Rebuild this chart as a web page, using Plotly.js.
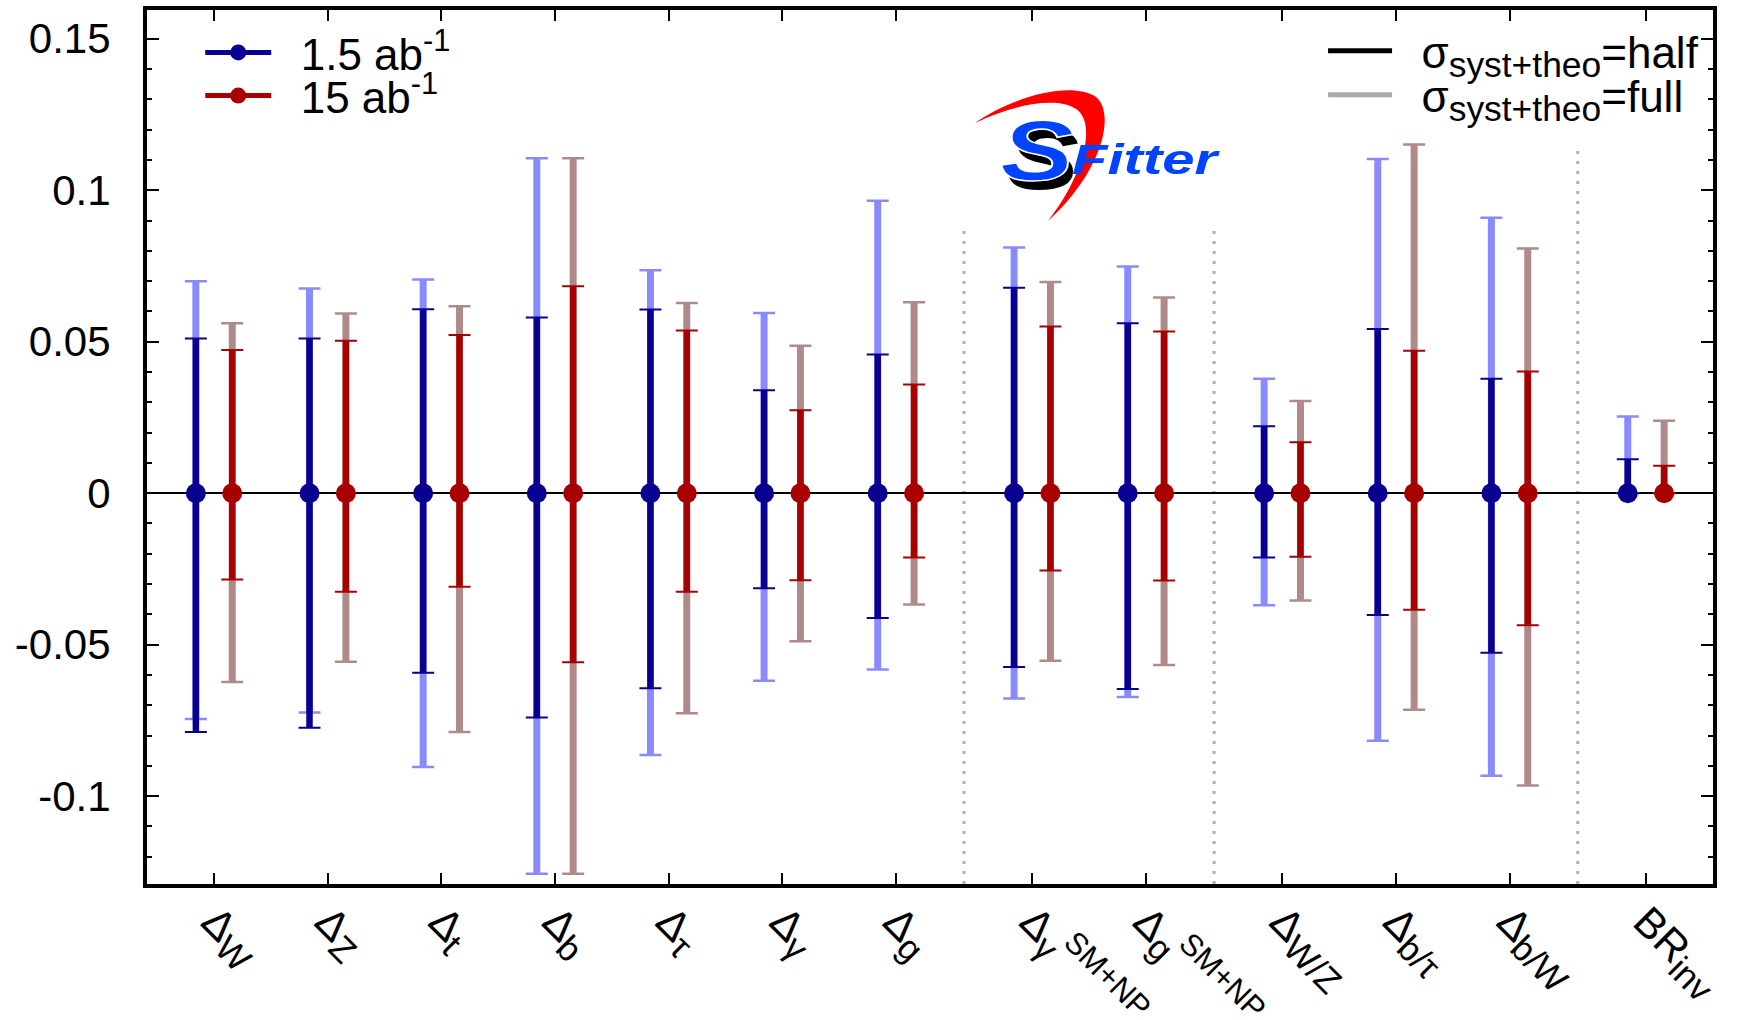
<!DOCTYPE html>
<html><head><meta charset="utf-8">
<script src="https://cdn.plot.ly/plotly-3.0.1.min.js"></script>
<style>html,body{margin:0;padding:0;background:#fff}#chart{width:1745px;height:1020px}</style>
</head><body><div id="chart"></div>
<script>
// ---- data ----
const sub = t => '<sub><span style="font-size:120%">' + t + '</span></sub>';
const sup = t => '<sup><span style="font-size:105%">' + t + '</span></sup>';
const categories = ['Δ' + sub('W'), 'Δ' + sub('Z'), 'Δ' + sub('t'), 'Δ' + sub('b'), 'Δ' + sub('τ'),
  'Δ' + sub('γ'), 'Δ' + sub('g'), 'Δ' + sub('γ') + sup('SM+NP'), 'Δ' + sub('g') + sup('SM+NP'),
  'Δ' + sub('W/Z'), 'Δ' + sub('b/τ'), 'Δ' + sub('b/W'), 'BR' + sub('inv')];
const groups = [0, 0, 0, 0, 0, 0, 0, 1, 1, 2, 2, 2, 3];
const central = [0, 0, 0, 0, 0, 0, 0, 0, 0, 0, 0, 0, 0];

// 1.5 ab^-1
const low_halfUp   = [0.0511, 0.0511, 0.0607, 0.0580, 0.0606, 0.0340, 0.0458, 0.0678, 0.0561, 0.0221, 0.0542, 0.0378, 0.0112];
const low_halfDown = [0.0788, 0.0774, 0.0593, 0.0740, 0.0644, 0.0314, 0.0412, 0.0574, 0.0646, 0.0212, 0.0402, 0.0527, 0];
const low_fullUp   = [0.0700, 0.0676, 0.0705, 0.1106, 0.0736, 0.0595, 0.0965, 0.0811, 0.0748, 0.0378, 0.1103, 0.0909, 0.0253];
const low_fullDown = [0.0745, 0.0724, 0.0904, 0.1256, 0.0864, 0.0619, 0.0582, 0.0678, 0.0673, 0.0370, 0.0817, 0.0933, 0];
// 15 ab^-1
const high_halfUp   = [0.0473, 0.0503, 0.0522, 0.0683, 0.0537, 0.0274, 0.0359, 0.0550, 0.0534, 0.0168, 0.0470, 0.0402, 0.0091];
const high_halfDown = [0.0285, 0.0325, 0.0309, 0.0558, 0.0325, 0.0287, 0.0212, 0.0255, 0.0288, 0.0210, 0.0385, 0.0436, 0];
const high_fullUp   = [0.0561, 0.0593, 0.0617, 0.1106, 0.0628, 0.0487, 0.0630, 0.0697, 0.0646, 0.0304, 0.1151, 0.0808, 0.0239];
const high_fullDown = [0.0623, 0.0556, 0.0788, 0.1256, 0.0726, 0.0489, 0.0367, 0.0553, 0.0567, 0.0354, 0.0715, 0.0965, 0];

const yTickVals = [-0.1, -0.05, 0, 0.05, 0.1, 0.15];
const yTickText = ['-0.1', '-0.05', '0', '0.05', '0.1', '0.15'];

const seriesNames = ['1.5 ab<sup>-1</sup>', '15 ab<sup>-1</sup>'];
const styleNames = ['σ<sub><span style="font-size:115%">syst+theo</span></sub>=half', 'σ<sub><span style="font-size:115%">syst+theo</span></sub>=full'];

// ---- layout helpers ----
const xPos = categories.map((c, i) => i + 1 + 0.2 * groups[i]);
const sepX = [];
for (let i = 0; i < groups.length - 1; i++) if (groups[i + 1] !== groups[i]) sepX.push(xPos[i] + 0.6);
const sepTop = [0.087, 0.087, 0.115];

const FONT = 'Liberation Sans, Arial, Helvetica, sans-serif';
const GAP = '\u00a0\u00a0';
const series = [
  {name: seriesNames[0], off: -0.16, dark: '#0a0090', light: '#8a8aff', hu: low_halfUp, hd: low_halfDown, fu: low_fullUp, fd: low_fullDown, legend: 'legend'},
  {name: seriesNames[1], off: 0.16, dark: '#a80000', light: '#b08a8a', hu: high_halfUp, hd: high_halfDown, fu: high_fullUp, fd: high_fullDown, legend: 'legend3'}
];

const traces = [];
series.forEach(s => {
  const xs = xPos.map(x => x + s.off);
  const base = {x: xs, y: central, type: 'scatter', mode: 'markers', marker: {size: 1, opacity: 0}, showlegend: false, hoverinfo: 'skip'};
  traces.push(Object.assign({}, base, {error_y: {type: 'data', symmetric: false, array: s.fu, arrayminus: s.fd, color: s.light, thickness: 7, width: 0}}));
  traces.push(Object.assign({}, base, {error_y: {type: 'data', symmetric: false, array: s.fu, arrayminus: s.fd, color: s.light, thickness: 2.5, width: 11}}));
  traces.push(Object.assign({}, base, {error_y: {type: 'data', symmetric: false, array: s.hu, arrayminus: s.hd, color: s.dark, thickness: 6.5, width: 0}}));
  traces.push(Object.assign({}, base, {error_y: {type: 'data', symmetric: false, array: s.hu, arrayminus: s.hd, color: s.dark, thickness: 2, width: 11}}));
  traces.push({x: xs, y: central, type: 'scatter', mode: 'markers', marker: {size: 20, color: s.dark}, showlegend: false});
});
// legend entries
series.forEach(s => traces.push({x: [null], y: [null], type: 'scatter', mode: 'lines+markers', name: GAP + s.name,
  line: {color: s.dark, width: 5}, marker: {size: 20, color: s.dark}, legend: s.legend}));
traces.push({x: [null], y: [null], type: 'scatter', mode: 'lines', name: GAP + styleNames[0], line: {color: '#000', width: 5}, legend: 'legend2'});
traces.push({x: [null], y: [null], type: 'scatter', mode: 'lines', name: GAP + styleNames[1], line: {color: '#aaaaaa', width: 5}, legend: 'legend4'});

const logoSvg = '<svg xmlns="http://www.w3.org/2000/svg" width="280" height="150" viewBox="0 0 280 150">' +
  '<path d="M25,43 C60,18 120,0 146,17 C166,34 152,92 98,141 C136,92 146,42 126,29 C106,16 62,25 25,43 Z" fill="#ff0000"/>' +
  '<text x="57" y="109" font-family="Liberation Sans, Arial" font-weight="bold" font-style="italic" font-size="86" textLength="72" lengthAdjust="spacingAndGlyphs" fill="#000">S</text>' +
  '<text x="50" y="100" font-family="Liberation Sans, Arial" font-weight="bold" font-style="italic" font-size="86" textLength="74" lengthAdjust="spacingAndGlyphs" fill="#0044ff" stroke="#fff" stroke-width="1.5">S</text>' +
  '<text x="122" y="94" font-family="Liberation Sans, Arial" font-weight="bold" font-style="italic" font-size="42" textLength="145" lengthAdjust="spacingAndGlyphs" fill="#0044ff">Fitter</text>' +
  '</svg>';

const legBase = {xanchor: 'left', yanchor: 'middle', bgcolor: 'rgba(0,0,0,0)', font: {size: 44}, borderwidth: 0};
const layout = {
  width: 1745, height: 1020,
  margin: {l: 147, r: 32, t: 10, b: 136},
  paper_bgcolor: '#fff', plot_bgcolor: '#fff',
  font: {family: FONT, size: 42, color: '#000'},
  showlegend: true,
  xaxis: {
    range: [0.41, 14.19], tickmode: 'array', tickvals: xPos, ticktext: categories, tickangle: 45,
    ticks: 'inside', ticklen: 11, tickwidth: 2, tickcolor: '#000',
    showline: true, linewidth: 4, linecolor: '#000', mirror: 'allticks',
    showgrid: false, zeroline: false, tickfont: {size: 42}, ticklabelstandoff: -8
  },
  yaxis: {
    range: [-0.129, 0.1595], tickmode: 'array', tickvals: yTickVals, ticktext: yTickText,
    ticks: 'inside', ticklen: 12, tickwidth: 2, tickcolor: '#000',
    minor: {tickmode: 'linear', tick0: 0, dtick: 0.01, ticks: 'inside', ticklen: 5, tickwidth: 2, tickcolor: '#000', showgrid: false},
    showline: true, linewidth: 4, linecolor: '#000', mirror: 'allticks',
    showgrid: false, zeroline: true, zerolinecolor: '#000', zerolinewidth: 1.5,
    tickfont: {size: 42}, ticklabelstandoff: 24
  },
  legend: Object.assign({x: 0.034, y: 0.951, itemwidth: 66}, legBase),
  legend3: Object.assign({x: 0.034, y: 0.9016, itemwidth: 66}, legBase),
  legend2: Object.assign({x: 0.751, y: 0.953, itemwidth: 64}, legBase),
  legend4: Object.assign({x: 0.751, y: 0.9027, itemwidth: 64}, legBase),
  shapes: sepX.map((x, i) => ({type: 'line', xref: 'x', yref: 'y', x0: x, x1: x, y0: -0.129, y1: sepTop[i],
    line: {color: '#b0b0b0', width: 3, dash: '3px,7px'}, layer: 'below'})),
  images: [{source: 'data:image/svg+xml;charset=utf-8,' + encodeURIComponent(logoSvg), xref: 'paper', yref: 'paper',
    x: 0.5128, y: 0.9199, sizex: 0.1788, sizey: 0.1716, xanchor: 'left', yanchor: 'top', sizing: 'stretch', layer: 'above'}]
};

Plotly.newPlot('chart', traces, layout, {displayModeBar: false, staticPlot: true});
</script>
</body></html>
